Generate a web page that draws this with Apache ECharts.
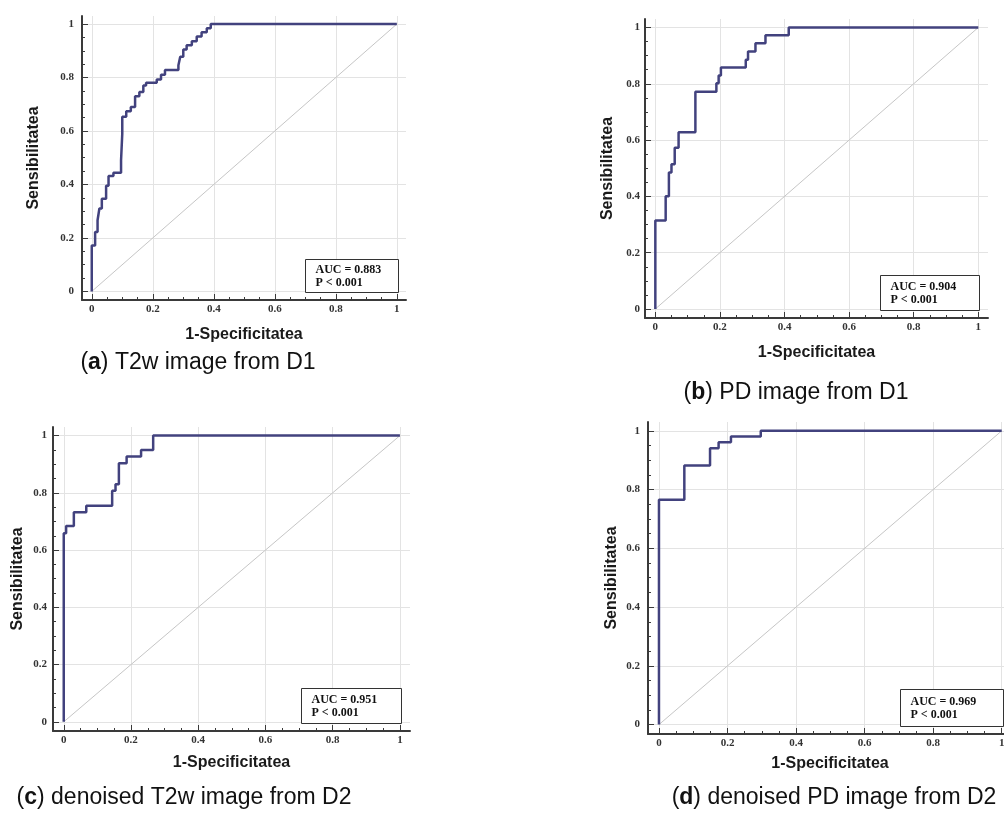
<!DOCTYPE html>
<html>
<head>
<meta charset="utf-8">
<title>ROC curves</title>
<script src="https://cdn.jsdelivr.net/npm/echarts@6/dist/echarts.min.js"></script>
<style>
html, body { margin: 0; padding: 0; background: #fff; }
#chart { width: 1004px; height: 818px; }
</style>
</head>
<body>
<div id="chart"></div>
<script>
// corner points of each ROC step curve (1-specificity, sensitivity)
const fprA = [0, 0, 0.011, 0.019, 0.025, 0.033, 0.047, 0.055, 0.071, 0.096, 0.100, 0.100, 0.113, 0.128, 0.142, 0.156, 0.169, 0.178, 0.213, 0.227, 0.240, 0.284, 0.290, 0.300, 0.311, 0.328, 0.344, 0.360, 0.377, 0.390, 1];
const tprA = [0, 0.172, 0.222, 0.266, 0.310, 0.347, 0.395, 0.432, 0.444, 0.490, 0.590, 0.653, 0.674, 0.690, 0.730, 0.746, 0.770, 0.780, 0.793, 0.810, 0.828, 0.846, 0.878, 0.905, 0.921, 0.936, 0.953, 0.969, 0.984, 1, 1];

const fprB = [0, 0, 0.032, 0.042, 0.050, 0.060, 0.072, 0.124, 0.189, 0.196, 0.203, 0.280, 0.287, 0.310, 0.341, 0.413, 1];
const tprB = [0, 0.314, 0.400, 0.485, 0.514, 0.573, 0.628, 0.772, 0.802, 0.829, 0.858, 0.885, 0.915, 0.944, 0.972, 1, 1];

const fprC = [0, 0, 0.007, 0.030, 0.067, 0.144, 0.154, 0.164, 0.187, 0.230, 0.266, 1];
const tprC = [0, 0.659, 0.684, 0.732, 0.755, 0.807, 0.830, 0.903, 0.927, 0.950, 1, 1];

const fprD = [0, 0, 0.074, 0.149, 0.174, 0.210, 0.297, 1];
const tprD = [0, 0.765, 0.882, 0.941, 0.961, 0.981, 1, 1];

// chance line
const diagX = [0, 1];
const diagY = [0, 1];

const majorTicks = [0, 0.2, 0.4, 0.6, 0.8, 1];
const minorTicks = [0.05, 0.1, 0.15, 0.25, 0.3, 0.35, 0.45, 0.5, 0.55, 0.65, 0.7, 0.75, 0.85, 0.9, 0.95];

const aucTexts = ['AUC = 0.883', 'AUC = 0.904', 'AUC = 0.951', 'AUC = 0.969'];
const pTexts = ['P < 0.001', 'P < 0.001', 'P < 0.001', 'P < 0.001'];
const captionLetters = ['a', 'b', 'c', 'd'];
const captionTexts = [' T2w image from D1', ' PD image from D1', ' denoised T2w image from D2', ' denoised PD image from D2'];

const xName = '1-Specificitatea';
const yName = 'Sensibilitatea';

// layout of the four panels (pixels)
const layout = [
  { grid: [82, 16, 324, 284],   xGap: 27, yGap: 40, yMargin: 8, box: [93, 33],  caption: [198, 363] },
  { grid: [645, 19, 343, 299],  xGap: 27, yGap: 29, yMargin: 5, box: [99, 35],  caption: [796, 393] },
  { grid: [53, 427, 357, 304],  xGap: 24, yGap: 27, yMargin: 6, box: [100, 35], caption: [184, 798] },
  { grid: [648, 422, 364, 312], xGap: 22, yGap: 28, yMargin: 8, box: [103, 37], caption: [834, 798] }
];

const AX_MIN = -0.032;
const AX_MAX = 1.03;

const axisColor = '#3a3a3a';
const sansFont = '"Liberation Sans", Arial, sans-serif';
const serifFont = '"Liberation Serif", "Times New Roman", serif';

const nameStyle = { fontFamily: sansFont, fontWeight: 'bold', fontSize: 16, color: '#1a1a1a' };
const tickFont = { fontFamily: serifFont, fontWeight: 'bold', fontSize: 11, color: '#333' };

const curves = [[fprA, tprA], [fprB, tprB], [fprC, tprC], [fprD, tprD]];

function pairs(xs, ys) {
  return xs.map(function (x, k) { return [x, ys[k]]; });
}

const grid = [], xAxis = [], yAxis = [], series = [];

layout.forEach(function (L, i) {
  grid.push({
    left: L.grid[0], top: L.grid[1], width: L.grid[2], height: L.grid[3],
    containLabel: false, outerBoundsMode: 'none'
  });

  // main axes: line, major ticks, labels, grid lines
  xAxis.push({
    gridIndex: i, type: 'value', position: 'bottom', min: AX_MIN, max: AX_MAX,
    name: xName, nameLocation: 'middle', nameGap: L.xGap, nameTextStyle: nameStyle,
    axisLine: { onZero: false, lineStyle: { color: axisColor, width: 2 } },
    axisTick: { inside: true, length: 6, customValues: majorTicks, lineStyle: { color: axisColor, width: 1 } },
    axisLabel: Object.assign({ customValues: majorTicks, margin: 4 }, tickFont),
    splitLine: { show: true, lineStyle: { color: '#e3e3e3', width: 1 } }
  });
  // minor ticks only
  xAxis.push({
    gridIndex: i, type: 'value', position: 'bottom', min: AX_MIN, max: AX_MAX,
    axisLine: { show: false, onZero: false },
    axisTick: { inside: true, length: 3, customValues: minorTicks, lineStyle: { color: axisColor, width: 1 } },
    axisLabel: { show: false },
    splitLine: { show: false }
  });

  yAxis.push({
    gridIndex: i, type: 'value', position: 'left', min: AX_MIN, max: AX_MAX,
    name: yName, nameLocation: 'middle', nameGap: L.yGap, nameTextStyle: nameStyle,
    axisLine: { onZero: false, lineStyle: { color: axisColor, width: 2 } },
    axisTick: { inside: true, length: 6, customValues: majorTicks, lineStyle: { color: axisColor, width: 1 } },
    axisLabel: Object.assign({ customValues: majorTicks, margin: L.yMargin }, tickFont),
    splitLine: { show: true, lineStyle: { color: '#e3e3e3', width: 1 } }
  });
  yAxis.push({
    gridIndex: i, type: 'value', position: 'left', min: AX_MIN, max: AX_MAX,
    axisLine: { show: false, onZero: false },
    axisTick: { inside: true, length: 3, customValues: minorTicks, lineStyle: { color: axisColor, width: 1 } },
    axisLabel: { show: false },
    splitLine: { show: false }
  });

  series.push({
    type: 'line', xAxisIndex: 2 * i, yAxisIndex: 2 * i,
    data: pairs(diagX, diagY), symbol: 'none', silent: true,
    lineStyle: { color: '#c6c6c6', width: 1 }, z: 2
  });
  series.push({
    type: 'line', step: 'end', xAxisIndex: 2 * i, yAxisIndex: 2 * i,
    data: pairs(curves[i][0], curves[i][1]), symbol: 'none', showSymbol: false,
    lineStyle: { color: '#42427e', width: 2.5 }, z: 3
  });
});

const chart = echarts.init(document.getElementById('chart'));
chart.setOption({
  animation: false,
  backgroundColor: '#fff',
  grid: grid,
  xAxis: xAxis,
  yAxis: yAxis,
  series: series
});

// AUC box anchored at the (1, 0) corner of each plot, captions under each panel
const graphic = [];
layout.forEach(function (L, i) {
  const corner = chart.convertToPixel({ xAxisIndex: 2 * i, yAxisIndex: 2 * i }, [1, 0]);
  const w = L.box[0], h = L.box[1];
  graphic.push({
    type: 'group', x: Math.round(corner[0] + 1 - w) + 0.5, y: Math.round(corner[1] + 1 - h) + 0.5, z: 100,
    children: [
      { type: 'rect', shape: { x: 0, y: 0, width: w, height: h },
        style: { fill: '#fff', stroke: '#333', lineWidth: 1 } },
      { type: 'text', x: 10, y: h / 2,
        style: {
          text: aucTexts[i] + '\n' + pTexts[i],
          font: 'bold 12px ' + serifFont, fill: '#111', lineHeight: 13,
          textAlign: 'left', textVerticalAlign: 'middle'
        } }
    ]
  });
  graphic.push({
    type: 'text', x: L.caption[0], y: L.caption[1], z: 100,
    style: {
      text: '({l|' + captionLetters[i] + '})' + captionTexts[i],
      font: '23px ' + sansFont,
      fill: '#111',
      textAlign: 'center', textVerticalAlign: 'middle',
      rich: { l: { font: 'bold 23px ' + sansFont, fill: '#111' } }
    }
  });
});
chart.setOption({ graphic: graphic });
</script>
</body>
</html>
